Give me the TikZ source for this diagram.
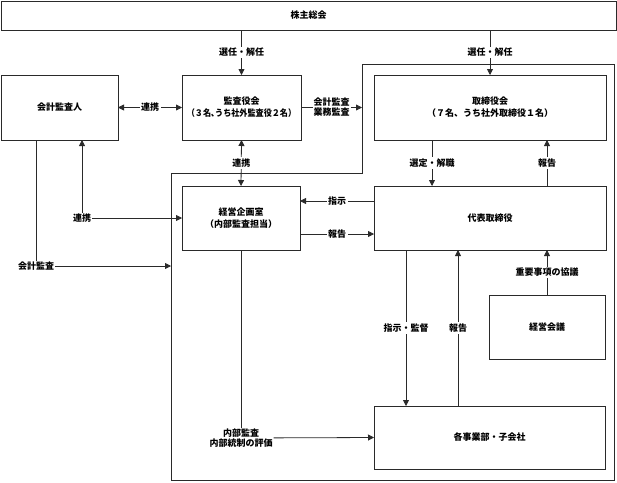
\documentclass[tikz,border=0pt]{standalone}
\usepackage{fontspec}
\setmainfont{Noto Sans CJK JP}
\usetikzlibrary{arrows.meta}
\definecolor{ln}{HTML}{2A2A2A}
\tikzset{
  box/.style={draw=ln, line width=0.9pt, fill=white, inner sep=0pt, outer sep=0pt, align=center, font=\jfont},
  lbl/.style={fill=white, inner sep=1.5pt, align=center, font=\jfont},
  conn/.style={draw=ln, line width=0.8pt},
  arr/.style={conn, -{Triangle[length=6pt,width=6pt]}},
  darr/.style={conn, {Triangle[length=6pt,width=6pt]}-{Triangle[length=6pt,width=6pt]}},
}
\newcommand{\jfont}{\fontsize{9}{12}\selectfont\bfseries}
\begin{document}
\begin{tikzpicture}[x=1pt,y=-1pt]
\useasboundingbox (0,0) rectangle (617,482);
% enclosure
\draw[conn] (362,64) -- (614,64) -- (614,480) -- (171,480) -- (171,173) -- (362,173) -- cycle;
% boxes
\node[box, minimum width=615pt, minimum height=29pt] (kabu) at (308.5,15.5) {株主総会};
\node[box, minimum width=117pt, minimum height=65pt] (kaikei) at (59.5,107.5) {会計監査人};
\node[box, minimum width=119pt, minimum height=65pt] (kansa) at (241.5,107.5) {監査役会\\\scalebox{0.9}[1]{（３名､うち社外監査役２名）}};
\node[box, minimum width=232pt, minimum height=65pt] (tori) at (490,107.5) {取締役会\\（７名、うち社外取締役１名）};
\node[box, minimum width=118pt, minimum height=64pt] (keiei) at (241,218) {経営企画室\\（内部監査担当）};
\node[box, minimum width=232pt, minimum height=64pt] (daihyo) at (490,218) {代表取締役};
\node[box, minimum width=116pt, minimum height=64pt] (kaigi) at (547,327) {経営会議};
\node[box, minimum width=231pt, minimum height=63pt] (jigyo) at (489.5,437.5) {各事業部・子会社};
% free ends on the enclosure
\coordinate (encA) at (362,107.5);
\coordinate (encB) at (171,266);
% label nodes that join lines
\node[lbl, inner sep=1pt] (kaikeilbl) at (36,266) {会計監査};
\node[lbl, inner sep=1pt] (renlbl) at (82,218) {連携};
\node[lbl, inner sep=1pt] (naibulbl) at (241,438) {内部監査\\[-2pt]内部統制の評価};
% connectors
\draw[arr] (kabu.south -| kansa) -- node[lbl]{選任・解任} (kansa.north);
\draw[arr] (kabu.south -| tori) -- node[lbl]{選任・解任} (tori.north);
\draw[darr] (kaikei.east) -- node[lbl]{連携} (kansa.west);
\draw[arr] (kansa.east) -- node[lbl, inner sep=1pt]{会計監査\\[-2pt]業務監査} (encA);
\draw[darr] (kansa.south) -- node[lbl]{連携} (keiei.north);
\draw[conn] (kaikei.south -| kaikeilbl) -- (kaikeilbl);
\draw[arr] (kaikeilbl) -- (encB);
\draw[arr] (renlbl) -- (kaikei.south -| renlbl);
\draw[arr] (renlbl) -- (keiei.west);
\draw[arr] ([yshift=17pt]daihyo.west) -- node[lbl]{指示} ([yshift=17pt]keiei.east);
\draw[arr] ([yshift=-16pt]keiei.east) -- node[lbl]{報告} ([yshift=-16pt]daihyo.west);
\draw[arr] ([xshift=-58pt]tori.south) -- node[lbl]{選定・解職} ([xshift=-58pt]daihyo.north);
\draw[arr] ([xshift=57pt]daihyo.north) -- node[lbl]{報告} ([xshift=57pt]tori.south);
\draw[arr] (kaigi.north) -- node[lbl]{重要事項の協議} (kaigi.north |- daihyo.south);
\draw[arr] ([xshift=-84pt]daihyo.south) -- node[lbl]{指示・監督} ([xshift=-84pt]daihyo.south |- jigyo.north);
\draw[arr] ([xshift=-32pt]daihyo.south |- jigyo.north) -- node[lbl]{報告} ([xshift=-32pt]daihyo.south);
\draw[conn] (keiei.south) -- (naibulbl.north);
\draw[arr] (naibulbl) -- (jigyo.west);
\end{tikzpicture}
\end{document}
